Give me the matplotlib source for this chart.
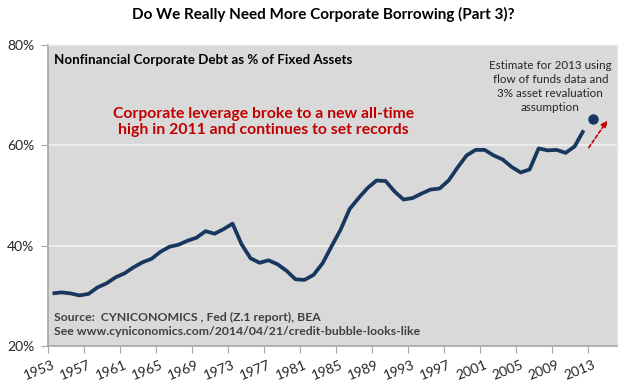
#!/usr/bin/env python3
# corporate debt / fixed assets line chart

import numpy as np
import matplotlib
matplotlib.use("Agg")
import matplotlib.pyplot as plt
import matplotlib.transforms as mtransforms

plt.rcParams["font.family"] = ["Lato", "DejaVu Sans"]

# -------------------------------
# data
# -------------------------------
years = list(range(1953, 2013))
debt_pct = [
    30.5, 30.7, 30.5, 30.1, 30.4, 31.7, 32.5, 33.7, 34.5, 35.7,   # 1953-1962
    36.7, 37.4, 38.8, 39.8, 40.2, 41.0, 41.6, 42.9, 42.4, 43.3,   # 1963-1972
    44.4, 40.3, 37.5, 36.6, 37.1, 36.3, 35.0, 33.3, 33.2, 34.2,   # 1973-1982
    36.5, 39.9, 43.2, 47.3, 49.5, 51.5, 53.0, 52.9, 50.8, 49.2,   # 1983-1992
    49.5, 50.4, 51.2, 51.4, 53.0, 55.6, 58.0, 59.1, 59.1, 58.0,   # 1993-2002
    57.2, 55.7, 54.6, 55.2, 59.4, 59.0, 59.1, 58.5, 59.8, 63.0,   # 2003-2012
]
est_year = 2013
est_pct = 65.3

tick_years = list(range(1953, 2014, 4))
y_ticks = [20, 40, 60, 80]

title = "Do We Really Need More Corporate Borrowing (Part 3)?"
subtitle = "Nonfinancial Corporate Debt as % of Fixed Assets"
callout = "Corporate leverage broke to a new all-time\nhigh in 2011 and continues to set records"
estimate_note = "Estimate for 2013 using\nflow of funds data and\n3% asset revaluation\nassumption"
source_lines = "Source:  CYNICONOMICS , Fed (Z.1 report), BEA\nSee www.cyniconomics.com/2014/04/21/credit-bubble-looks-like"

NAVY = "#17375e"
RED = "#c00000"

# category-style axis: each year sits in the middle of its slot
x = np.array(years) + 0.5

fig = plt.figure(figsize=(6.4, 3.88), dpi=100)
ax = fig.add_axes([0.075, 0.108, 0.889, 0.776])
ax.set_facecolor("#d9d9d9")

ax.plot(x, debt_pct, color=NAVY, linewidth=2.7, solid_capstyle="butt",
        solid_joinstyle="round", zorder=3)
ax.plot([est_year + 0.5], [est_pct], "o", color=NAVY, markersize=6.5, zorder=3)

ax.set_xlim(1953, 2016.2)
ax.set_ylim(20, 80)

ax.set_yticks(y_ticks)
ax.set_yticklabels([f"{v}%" for v in y_ticks], fontsize=10, color="#262626")
ax.set_xticks(tick_years)
ax.set_xticklabels([str(t) for t in tick_years], fontsize=10, color="#262626",
                   rotation=22, ha="right", va="top", rotation_mode="anchor")
ax.tick_params(axis="x", length=5, color="#a6a6a6", pad=4)
ax.tick_params(axis="y", length=5, color="#a6a6a6", pad=5)
# nudge rotated year labels a little to the right, as in the original
offset = mtransforms.ScaledTranslation(4 / 100, 0, fig.dpi_scale_trans)
for lbl in ax.get_xticklabels():
    lbl.set_transform(lbl.get_transform() + offset)

ax.grid(axis="y", color="#f2f2f2", linewidth=1.2, zorder=1)
ax.set_axisbelow(True)
for side in ["left", "bottom"]:
    ax.spines[side].set_color("#a6a6a6")
    ax.spines[side].set_linewidth(1.2)
for side in ["top", "right"]:
    ax.spines[side].set_color("#e6e6e6")
    ax.spines[side].set_linewidth(1.0)

fig.text(0.505, 0.962, title, ha="center", va="center", fontsize=11,
         fontweight="bold", color="black")

ax.text(0.01, 0.97, subtitle, transform=ax.transAxes, ha="left", va="top",
        fontsize=9.6, fontweight="bold", color="black")
ax.text(0.379, 0.745, callout, transform=ax.transAxes, ha="center", va="center",
        fontsize=11.3, fontweight="bold", color=RED, linespacing=1.2)
ax.text(0.883, 0.862, estimate_note, transform=ax.transAxes, ha="center",
        va="center", fontsize=8.4, color="#262626", linespacing=1.35)
ax.text(0.01, 0.03, source_lines, transform=ax.transAxes, ha="left",
        va="bottom", fontsize=8.8, fontweight="bold", color="#404040",
        linespacing=1.35)

# red dashed arrow pointing up-right from the estimate
ax.annotate("", xy=(2015.3, 65.4), xytext=(2012.9, 59.1),
            arrowprops=dict(arrowstyle="-|>", color=RED, linestyle=(0, (2, 1.5)),
                            linewidth=1.2, mutation_scale=9))

fig.savefig("out.png", dpi=100)
